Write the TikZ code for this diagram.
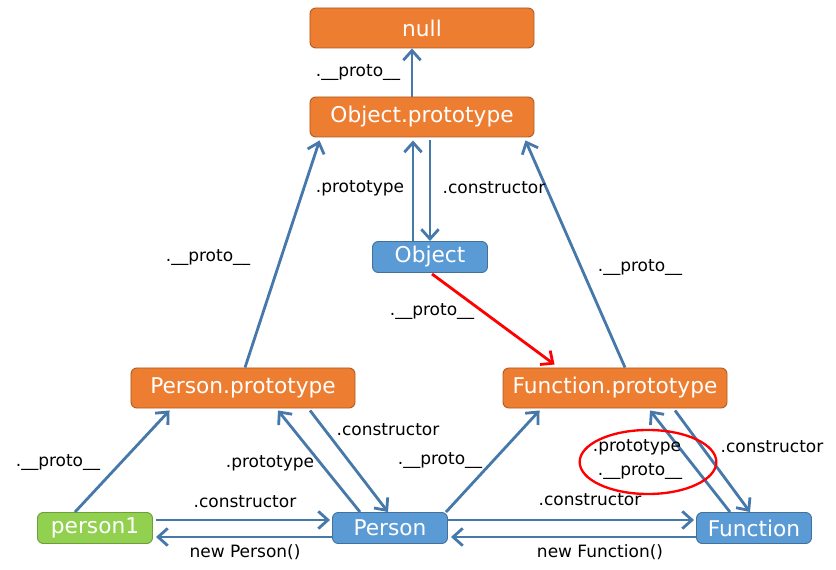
\documentclass[tikz,border=0pt]{standalone}
\usepackage{fontspec}
\setmainfont{DejaVu Sans}
\usetikzlibrary{arrows.meta, calc, positioning, shapes.geometric}
\definecolor{boxorange}{RGB}{237,125,49}
\definecolor{edgeorange}{RGB}{174,90,33}
\definecolor{boxblue}{RGB}{91,155,213}
\definecolor{edgeblue}{RGB}{65,113,156}
\definecolor{boxgreen}{RGB}{146,208,80}
\definecolor{edgegreen}{RGB}{110,158,60}
\definecolor{linkblue}{RGB}{70,120,170}
\definecolor{accentred}{RGB}{255,0,0}

\begin{document}
\begin{tikzpicture}[x=0.03cm, y=-0.03cm, >={Straight Barb[length=2.9mm,width=5.2mm]},
    protobox/.style={rectangle, rounded corners=5pt, fill=boxorange, draw=edgeorange, line width=0.8pt,
        text=white, minimum width=6.72cm, minimum height=1.2cm, inner sep=0pt, font=\fontsize{18.5}{20}\selectfont},
    funcbox/.style={protobox, fill=boxblue, draw=edgeblue, minimum width=3.45cm, minimum height=0.93cm},
    instbox/.style={funcbox, fill=boxgreen, draw=edgegreen},
    link/.style={->, line width=2.4pt, linkblue},
    lbl/.style={font=\fontsize{14.5}{16}\selectfont, inner sep=0pt}]
        \useasboundingbox (0,0) rectangle (836,570);

        % Boxes
        \node[protobox] (null) at (422,28) {null};
        \node[protobox] (oproto) at (422,117) {Object.prototype};
        \node[funcbox] (object) at (430,257) {Object};
        \node[protobox] (pproto) at (243,388) {Person.prototype};
        \node[protobox] (fproto) at (615,388) {Function.prototype};
        \node[instbox] (person1) at (95,528) {person1};
        \node[funcbox] (person) at (390,528) {Person};
        \node[funcbox] (function) at (754,528) {Function};

        % Object side
        \draw[link] ($(oproto.north)+(-10,0)$) -- ($(null.south)+(-10,0)$);
        \draw[link] ($(object.north)+(-17,0)$) -- ($(oproto.south)+(-9,3)$);
        \draw[link] ($(oproto.south)+(8,3)$) -- ($(object.north)+(0,0)$);
        \draw[link] ($(pproto.north)+(2,0)$) -- ($(oproto.south west)+(10,3)$);
        \draw[link] ($(fproto.north)+(10,0)$) -- ($(oproto.south east)+(-9,3)$);
        \draw[->, line width=2.4pt, accentred] ($(object.south)+(2,1)$) -- ($(fproto.north west)+(52,-3)$);

        % Person side
        \draw[link] ($(person1.north)+(-20,0)$) -- ($(pproto.south west)+(39,2)$);
        \draw[link] ($(person.north)+(-30,0)$) -- ($(pproto.south)+(35,2)$);
        \draw[link] ($(pproto.south)+(67,2)$) -- ($(person.north)+(-2,0)$);
        \draw[link] ($(person.north east)+(-2,0)$) -- ($(fproto.south west)+(37,2)$);
        \draw[link] ($(person1.east)+(3,-8)$) -- ($(person.west)+(-2,-8)$);
        \draw[link] ($(person.west)+(0,9)$) -- ($(person1.east)+(3,9)$);

        % Function side
        \draw[link] ($(person.east)+(0,-8)$) -- ($(function.west)+(-2,-8)$);
        \draw[link] ($(function.west)+(0,9)$) -- ($(person.east)+(3,9)$);
        \draw[link] ($(function.north)+(-24,0)$) -- ($(fproto.south)+(35,2)$);
        \draw[link] ($(fproto.south)+(60,2)$) -- ($(function.north)+(-4,0)$);

        % Labels
        \node[lbl] (l-null) at (358,73) {.\_\_proto\_\_};
        \node[lbl] (l-oprot) at (360,188) {.prototype};
        \node[lbl] (l-ocons) at (494,188) {.constructor};
        \node[lbl] (l-pup) at (208,258) {.\_\_proto\_\_};
        \node[lbl] (l-fup) at (640,268) {.\_\_proto\_\_};
        \node[lbl] (l-red) at (432,312) {.\_\_proto\_\_};
        \node[lbl] (l-p1) at (58,463) {.\_\_proto\_\_};
        \node[lbl] (l-pprot) at (270,463) {.prototype};
        \node[lbl] (l-pcons) at (388,430) {.constructor};
        \node[lbl] (l-pfun) at (440,461) {.\_\_proto\_\_};
        \node[lbl] (l-p1cons) at (245,502) {.constructor};
        \node[lbl] (l-newp) at (245,552) {new Person()};
        \node[lbl] (l-fcons) at (590,500) {.constructor};
        \node[lbl] (l-newf) at (600,552) {new Function()};
        \node[lbl] (l-fprot) at (637,447) {.prototype};
        \node[lbl] (l-fproto) at (640,472) {.\_\_proto\_\_};
        \node[lbl] (l-fpcons) at (772,447) {.constructor};

        % Highlight
        \node[draw=accentred, ellipse, line width=2pt, minimum width=4.1cm, minimum height=1.92cm] (ring) at (648,462) {};
    \end{tikzpicture}
\end{document}
